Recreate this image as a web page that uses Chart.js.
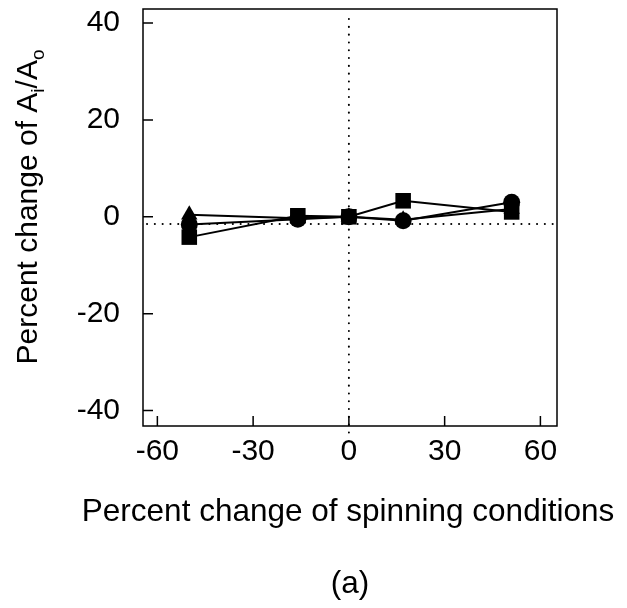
<!DOCTYPE html>
<html>
<head>
<meta charset="utf-8">
<script src="https://cdn.jsdelivr.net/npm/chart.js@4.4.0/dist/chart.umd.min.js"></script>
<style>
  html, body { margin: 0; padding: 0; background: #fff; }
  canvas { display: block; }
</style>
</head>
<body>
<canvas id="myChart" width="627" height="608"></canvas>
<script>
// spinning condition changes (%)
const xVals = [-50, -16, 0, 17, 51];

// percent change of Ai/Ao per series
const squareVals = [-4.2, 0.2, 0, 3.3, 1.0];
const circleVals = [-1.6, -0.5, 0, -0.8, 3.0];
const triangleVals = [0.4, -0.3, 0, -0.6, 1.6];

const xTicks = [-60, -30, 0, 30, 60];
const yTicks = [-40, -20, 0, 20, 40];

// dotted reference lines
const refX = 0;
const refY = -1.5;

const FONT = 'Liberation Sans, Arial, Helvetica, sans-serif';

function toPoints(vals) {
  return xVals.map((x, i) => ({ x: x, y: vals[i] }));
}

function series(label, vals, style, radius) {
  return {
    label: label,
    data: toPoints(vals),
    borderColor: '#000',
    backgroundColor: '#000',
    borderWidth: 2,
    pointStyle: style,
    pointRadius: radius,
    pointHoverRadius: radius,
    pointBorderWidth: 0,
    tension: 0,
    fill: false
  };
}

// no label overflow padding, the frame sits at fixed margins
function noPad(s) {
  s.paddingTop = 0;
  s.paddingBottom = 0;
  s.paddingLeft = 0;
  s.paddingRight = 0;
}

// frame, inward ticks, dotted lines, axis titles
const decor = {
  id: 'decor',
  beforeDatasetsDraw(chart) {
    const ctx = chart.ctx;
    const a = chart.chartArea;
    const xs = chart.scales.x, ys = chart.scales.y;
    ctx.save();
    ctx.strokeStyle = '#000';
    ctx.lineWidth = 2;
    ctx.lineCap = 'round';
    ctx.setLineDash([0.1, 7.7]);
    const px = xs.getPixelForValue(refX);
    ctx.beginPath();
    ctx.moveTo(px, a.top + 10);
    ctx.lineTo(px, a.bottom + 8);
    ctx.stroke();
    const py = ys.getPixelForValue(refY);
    ctx.beginPath();
    ctx.moveTo(a.left + 4, py);
    ctx.lineTo(a.right - 2, py);
    ctx.stroke();
    ctx.restore();
  },
  afterDraw(chart) {
    const ctx = chart.ctx;
    const a = chart.chartArea;
    const xs = chart.scales.x, ys = chart.scales.y;
    ctx.save();
    ctx.strokeStyle = '#000';
    ctx.lineWidth = 1.5;
    ctx.strokeRect(a.left, a.top, a.right - a.left, a.bottom - a.top);
    ctx.beginPath();
    yTicks.forEach(v => {
      const y = ys.getPixelForValue(v);
      ctx.moveTo(a.left, y);
      ctx.lineTo(a.left + 10, y);
    });
    xTicks.forEach(v => {
      const x = xs.getPixelForValue(v);
      ctx.moveTo(x, a.bottom);
      ctx.lineTo(x, a.bottom - 10);
    });
    ctx.stroke();

    ctx.fillStyle = '#000';
    // x title and panel label
    ctx.font = '31.5px ' + FONT;
    ctx.textAlign = 'center';
    ctx.textBaseline = 'alphabetic';
    const cx = (a.left + a.right) / 2;
    ctx.fillText('Percent change of spinning conditions', cx - 2, 521);
    ctx.fillText('(a)', cx, 593);

    // y title with subscripts
    const parts = [
      { t: 'Percent change of A', sub: false },
      { t: 'i', sub: true },
      { t: '/A', sub: false },
      { t: 'o', sub: true }
    ];
    const big = '30px ' + FONT, small = '19px ' + FONT;
    let total = 0;
    parts.forEach(p => {
      ctx.font = p.sub ? small : big;
      p.w = ctx.measureText(p.t).width;
      total += p.w;
    });
    ctx.translate(37, 207);
    ctx.rotate(-Math.PI / 2);
    ctx.textAlign = 'left';
    let x = -total / 2;
    parts.forEach(p => {
      ctx.font = p.sub ? small : big;
      ctx.fillText(p.t, x, p.sub ? 7 : 0);
      x += p.w;
    });
    ctx.restore();
  }
};

const data = {
  datasets: [
    series('circle', circleVals, 'circle', 8.5),
    series('square', squareVals, 'rect', 11),
    series('triangle', triangleVals, 'triangle', 9.5)
  ]
};

const config = {
  type: 'line',
  data: data,
  options: {
    responsive: false,
    animation: false,
    events: [],
    layout: {
      autoPadding: false,
      padding: { top: 9, right: 70, left: 0, bottom: 0 }
    },
    scales: {
      x: {
        type: 'linear',
        min: -64.5,
        max: 65.2,
        afterBuildTicks: s => { s.ticks = xTicks.map(v => ({ value: v })); },
        afterFit: s => { s.height = 182; noPad(s); },
        grid: { display: false },
        border: { display: false },
        ticks: {
          color: '#000',
          padding: 0,
          maxRotation: 0,
          font: { family: FONT, size: 30 }
        }
      },
      y: {
        type: 'linear',
        min: -43.2,
        max: 42.9,
        afterBuildTicks: s => { s.ticks = yTicks.map(v => ({ value: v })); },
        afterFit: s => { s.width = 143; noPad(s); },
        grid: { display: false },
        border: { display: false },
        ticks: {
          color: '#000',
          padding: 15,
          font: { family: FONT, size: 30 }
        }
      }
    },
    plugins: {
      legend: { display: false },
      tooltip: { enabled: false }
    }
  },
  plugins: [decor]
};

const myChart = new Chart(document.getElementById('myChart'), config);
</script>
</body>
</html>
